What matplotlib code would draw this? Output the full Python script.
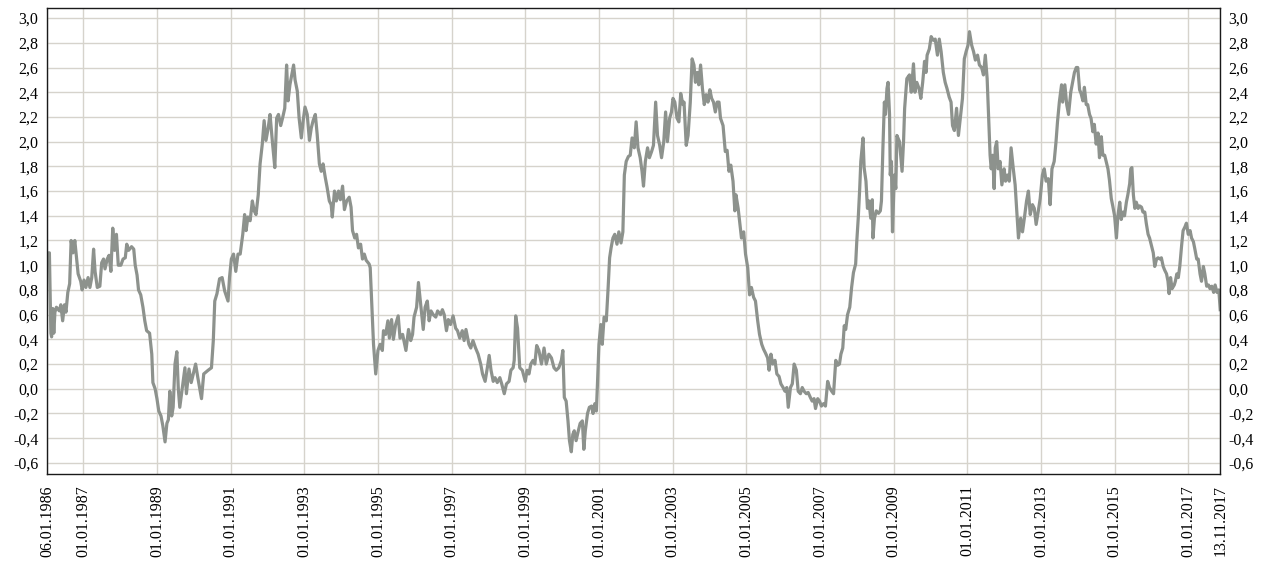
import matplotlib
matplotlib.use("Agg")
import matplotlib.pyplot as plt
import matplotlib.ticker as mticker
import numpy as np
import pandas as pd

# decimal year / value pairs of the weekly series
years = [
    1986.014, 1986.04, 1986.08, 1986.12, 1986.14, 1986.17, 1986.20, 1986.23, 1986.27,
    1986.35, 1986.39, 1986.44, 1986.49, 1986.53, 1986.58, 1986.63, 1986.67, 1986.72,
    1986.77, 1986.82, 1986.86, 1986.93, 1986.97, 1987.02, 1987.07, 1987.13, 1987.18,
    1987.23, 1987.28, 1987.32, 1987.38, 1987.45, 1987.50, 1987.55, 1987.59, 1987.65,
    1987.70, 1987.75, 1987.80, 1987.85, 1987.90, 1987.95, 1988.02, 1988.08, 1988.14,
    1988.18, 1988.23, 1988.31, 1988.37, 1988.41, 1988.46, 1988.50, 1988.56, 1988.62,
    1988.67, 1988.72, 1988.80, 1988.86, 1988.89, 1988.95, 1989.00, 1989.05, 1989.11,
    1989.16, 1989.22, 1989.27, 1989.31, 1989.35, 1989.40, 1989.44, 1989.49, 1989.54,
    1989.58,
    1989.62, 1989.76, 1989.80, 1989.87, 1989.93, 1990.05, 1990.11, 1990.21, 1990.27,
    1990.39, 1990.48, 1990.53, 1990.57, 1990.63, 1990.70, 1990.77, 1990.84, 1990.93,
    1990.97, 1991.02, 1991.08, 1991.14, 1991.20, 1991.26, 1991.33, 1991.38, 1991.42,
    1991.47, 1991.53, 1991.59, 1991.64, 1991.69, 1991.75, 1991.80, 1991.86, 1991.91,
    1991.96, 1992.02, 1992.07, 1992.14, 1992.20, 1992.25, 1992.30, 1992.36, 1992.41,
    1992.47, 1992.52, 1992.56, 1992.61, 1992.66, 1992.71, 1992.75, 1992.81, 1992.86,
    1992.92, 1992.97, 1993.02, 1993.08, 1993.14, 1993.19, 1993.24, 1993.30, 1993.35,
    1993.41, 1993.46, 1993.51, 1993.57, 1993.62, 1993.68, 1993.73, 1993.76, 1993.82,
    1993.87, 1993.93, 1993.98, 1994.04, 1994.09, 1994.15, 1994.22, 1994.27, 1994.31,
    1994.37, 1994.42, 1994.47, 1994.53, 1994.58, 1994.63, 1994.68, 1994.76, 1994.79,
    1994.83, 1994.88, 1994.94,
    1995.00, 1995.06, 1995.12, 1995.15, 1995.21, 1995.27, 1995.31, 1995.37, 1995.42,
    1995.48, 1995.55, 1995.60, 1995.67, 1995.76, 1995.83, 1995.89, 1995.94, 1995.98,
    1996.05, 1996.10, 1996.17, 1996.23, 1996.28, 1996.34, 1996.39, 1996.44, 1996.50,
    1996.57, 1996.62, 1996.70, 1996.75, 1996.80, 1996.86, 1996.91, 1996.97, 1997.04,
    1997.11, 1997.16, 1997.22, 1997.29, 1997.34, 1997.39, 1997.47, 1997.52, 1997.58,
    1997.65, 1997.72, 1997.79, 1997.84, 1997.91, 1997.97, 1998.02, 1998.07, 1998.13,
    1998.18, 1998.24, 1998.31, 1998.36, 1998.43, 1998.49, 1998.56, 1998.61, 1998.67,
    1998.70, 1998.74, 1998.79, 1998.85, 1998.92, 1999.00, 1999.05, 1999.10, 1999.15,
    1999.21, 1999.26, 1999.31,
    1999.37, 1999.44, 1999.51, 1999.57, 1999.64, 1999.71, 1999.78, 1999.84, 1999.91,
    1999.98, 2000.02, 2000.06, 2000.11, 2000.16, 2000.20, 2000.25, 2000.29, 2000.33,
    2000.38, 2000.44, 2000.49, 2000.55, 2000.59, 2000.63, 2000.69, 2000.74, 2000.80,
    2000.84, 2000.89, 2000.93, 2000.96, 2001.00, 2001.05, 2001.09, 2001.14, 2001.20,
    2001.25, 2001.29, 2001.33, 2001.38, 2001.43, 2001.49, 2001.54, 2001.60, 2001.65,
    2001.69, 2001.74, 2001.80, 2001.85, 2001.90, 2001.96, 2002.01, 2002.06, 2002.12,
    2002.17, 2002.21, 2002.26, 2002.32, 2002.37, 2002.43, 2002.48, 2002.54, 2002.59,
    2002.65, 2002.70, 2002.76, 2002.81, 2002.86, 2002.92, 2002.97, 2003.01, 2003.06,
    2003.12, 2003.17, 2003.22, 2003.28, 2003.31, 2003.37, 2003.42, 2003.48, 2003.53,
    2003.58, 2003.62, 2003.67, 2003.71, 2003.76, 2003.81, 2003.86, 2003.91, 2003.96,
    2004.01, 2004.06, 2004.11, 2004.16, 2004.21, 2004.26, 2004.30,
    2004.37, 2004.43, 2004.48, 2004.53, 2004.58, 2004.64, 2004.69, 2004.72, 2004.78,
    2004.83, 2004.87, 2004.93, 2004.98, 2005.04, 2005.09, 2005.14, 2005.20, 2005.25,
    2005.31, 2005.36, 2005.42, 2005.47, 2005.52, 2005.58, 2005.62, 2005.67, 2005.72,
    2005.78, 2005.83, 2005.89, 2005.94, 2006.00, 2006.05, 2006.10, 2006.14, 2006.20,
    2006.25, 2006.30, 2006.36, 2006.41, 2006.47, 2006.52, 2006.57, 2006.63, 2006.68,
    2006.74, 2006.79, 2006.84, 2006.88, 2006.94, 2006.99, 2007.04, 2007.10, 2007.15,
    2007.21, 2007.26, 2007.32, 2007.37, 2007.43, 2007.48, 2007.53, 2007.57, 2007.62,
    2007.66, 2007.70, 2007.75, 2007.81, 2007.86, 2007.91, 2007.97, 2008.00, 2008.04,
    2008.08, 2008.11, 2008.17, 2008.20, 2008.25, 2008.29, 2008.33, 2008.38, 2008.42,
    2008.44, 2008.48, 2008.53, 2008.59, 2008.64, 2008.67, 2008.71, 2008.75, 2008.78,
    2008.82, 2008.85, 2008.89, 2008.91, 2008.94, 2008.97, 2009.02, 2009.06, 2009.09,
    2009.16, 2009.23, 2009.27, 2009.30, 2009.36, 2009.43, 2009.48, 2009.54, 2009.58,
    2009.63, 2009.69, 2009.74, 2009.79, 2009.84, 2009.88, 2009.91, 2009.97, 2010.02,
    2010.08, 2010.13, 2010.19, 2010.24, 2010.29, 2010.35, 2010.40, 2010.45, 2010.51,
    2010.56, 2010.60, 2010.65, 2010.71, 2010.76, 2010.81, 2010.87, 2010.92, 2010.97,
    2011.02, 2011.06, 2011.12, 2011.17, 2011.22, 2011.28, 2011.33, 2011.39, 2011.44,
    2011.49, 2011.54, 2011.58, 2011.62, 2011.65, 2011.69, 2011.73, 2011.76, 2011.80,
    2011.84, 2011.89, 2011.94, 2012.00, 2012.04, 2012.09, 2012.14, 2012.19, 2012.25,
    2012.30, 2012.35, 2012.39, 2012.45, 2012.50, 2012.55, 2012.61, 2012.66, 2012.71,
    2012.77, 2012.82, 2012.87, 2012.93, 2012.98, 2013.04, 2013.09, 2013.14, 2013.20,
    2013.25, 2013.30, 2013.36, 2013.41, 2013.45, 2013.50, 2013.56, 2013.59, 2013.65,
    2013.70, 2013.75, 2013.81, 2013.86, 2013.91, 2013.96, 2014.00,
    2014.05, 2014.09, 2014.14, 2014.18, 2014.23, 2014.27, 2014.32, 2014.36, 2014.41,
    2014.45, 2014.50, 2014.55, 2014.59, 2014.64, 2014.68, 2014.73, 2014.77, 2014.82,
    2014.86, 2014.91, 2014.95, 2015.00, 2015.05, 2015.09, 2015.14, 2015.18, 2015.23,
    2015.27, 2015.32, 2015.36, 2015.41, 2015.44, 2015.47, 2015.51, 2015.55, 2015.59,
    2015.64, 2015.68, 2015.73, 2015.77, 2015.82, 2015.86, 2015.91, 2015.95, 2016.00,
    2016.05, 2016.09, 2016.14, 2016.18, 2016.23, 2016.27, 2016.32, 2016.36, 2016.41,
    2016.45, 2016.48, 2016.52, 2016.56, 2016.62, 2016.65, 2016.69, 2016.73, 2016.77,
    2016.82, 2016.86, 2016.91, 2016.95, 2017.00, 2017.05, 2017.09, 2017.14, 2017.18,
    2017.23, 2017.27, 2017.32, 2017.36, 2017.41, 2017.45, 2017.50, 2017.55, 2017.59,
    2017.64, 2017.69, 2017.73, 2017.78, 2017.83, 2017.868,
]

values = [
    1.10, 1.10, 1.10, 0.45, 0.42, 0.65, 0.45, 0.62, 0.66,
    0.63, 0.68, 0.55, 0.68, 0.62, 0.78, 0.85, 1.20, 1.10,
    1.20, 1.05, 0.93, 0.87, 0.80, 0.88, 0.82, 0.90, 0.82,
    0.90, 1.13, 0.95, 0.82, 0.83, 1.02, 1.05, 0.97, 1.05,
    1.08, 0.95, 1.30, 1.12, 1.25, 1.00, 1.00, 1.05, 1.06,
    1.17, 1.12, 1.15, 1.13, 1.00, 0.92, 0.80, 0.76, 0.66,
    0.55, 0.47, 0.45, 0.28, 0.05, 0.00, -0.08, -0.18, -0.22,
    -0.30, -0.43, -0.28, -0.25, -0.02, -0.22, -0.15, 0.20, 0.30,
    0.00,
    -0.15, 0.17, -0.04, 0.16, 0.05, 0.20, 0.09, -0.08, 0.12,
    0.15, 0.17, 0.39, 0.71, 0.77, 0.89, 0.90, 0.79, 0.71,
    0.90, 1.05, 1.09, 0.95, 1.09, 1.09, 1.25, 1.41, 1.28,
    1.39, 1.36, 1.52, 1.44, 1.41, 1.57, 1.82, 1.98, 2.17,
    2.01, 2.11, 2.22, 1.98, 1.79, 2.19, 2.22, 2.13, 2.19,
    2.27, 2.62, 2.33, 2.46, 2.54, 2.62, 2.50, 2.41, 2.19,
    2.03, 2.17, 2.28, 2.22, 2.01, 2.11, 2.17, 2.22, 2.06,
    1.82, 1.76, 1.82, 1.71, 1.63, 1.52, 1.49, 1.39, 1.60,
    1.52, 1.60, 1.53, 1.64, 1.45, 1.52, 1.55, 1.47, 1.28,
    1.22, 1.25, 1.14, 1.17, 1.05, 1.09, 1.04, 1.01, 0.98,
    0.71, 0.36, 0.12,
    0.31, 0.36, 0.31, 0.47, 0.44, 0.55, 0.41, 0.56, 0.40,
    0.52, 0.59, 0.41, 0.44, 0.31, 0.48, 0.39, 0.44, 0.58,
    0.66, 0.86, 0.66, 0.48, 0.66, 0.71, 0.55, 0.63, 0.60,
    0.58, 0.63, 0.60, 0.64, 0.60, 0.47, 0.56, 0.52, 0.59,
    0.49, 0.47, 0.41, 0.47, 0.39, 0.48, 0.36, 0.33, 0.39,
    0.33, 0.28, 0.20, 0.12, 0.06, 0.17, 0.27, 0.15, 0.06,
    0.09, 0.05, 0.09, 0.04, -0.04, 0.04, 0.06, 0.15, 0.17,
    0.23, 0.59, 0.49, 0.17, 0.15, 0.06, 0.15, 0.12, 0.20,
    0.23, 0.20, 0.35,
    0.31, 0.20, 0.33, 0.20, 0.28, 0.25, 0.17, 0.15, 0.17,
    0.23, 0.31, -0.07, -0.10, -0.26, -0.42, -0.51, -0.37, -0.34,
    -0.42, -0.34, -0.28, -0.26, -0.49, -0.34, -0.20, -0.15, -0.14,
    -0.20, -0.12, -0.18, 0.04, 0.36, 0.52, 0.36, 0.58, 0.55,
    0.82, 1.06, 1.14, 1.22, 1.25, 1.17, 1.27, 1.18, 1.27,
    1.73, 1.84, 1.88, 1.89, 2.03, 1.95, 2.16, 1.95, 1.87,
    1.76, 1.64, 1.84, 1.95, 1.87, 1.92, 1.97, 2.32, 2.05,
    1.97, 1.87, 2.00, 2.24, 2.00, 2.19, 2.24, 2.35, 2.32,
    2.19, 2.16, 2.39, 2.30, 2.32, 1.97, 2.05, 2.32, 2.67,
    2.62, 2.48, 2.56, 2.46, 2.62, 2.43, 2.30, 2.38, 2.32,
    2.42, 2.35, 2.32, 2.24, 2.32, 2.32, 2.19,
    2.13, 1.92, 1.93, 1.76, 1.81, 1.68, 1.44, 1.57, 1.46,
    1.33, 1.22, 1.27, 1.09, 0.98, 0.76, 0.82, 0.74, 0.71,
    0.55, 0.44, 0.36, 0.32, 0.29, 0.25, 0.15, 0.28, 0.20,
    0.23, 0.12, 0.10, 0.04, 0.01, -0.02, 0.01, -0.15, 0.01,
    0.04, 0.20, 0.15, -0.02, -0.04, 0.01, -0.02, -0.04, -0.03,
    -0.07, -0.10, -0.08, -0.16, -0.08, -0.10, -0.14, -0.12, -0.14,
    0.06, 0.01, -0.02, -0.04, 0.23, 0.19, 0.20, 0.28, 0.33,
    0.51, 0.48, 0.60, 0.66, 0.82, 0.94, 1.01, 1.19, 1.38,
    1.62, 1.84, 2.03, 1.79, 1.68, 1.46, 1.52, 1.38, 1.53,
    1.22, 1.38, 1.44, 1.42, 1.44, 1.52, 1.95, 2.32, 2.22,
    2.43, 2.48, 2.22, 1.73, 1.84, 1.27, 1.73, 1.62, 2.05,
    2.00, 1.76, 2.00, 2.27, 2.51, 2.54, 2.40, 2.63, 2.40,
    2.48, 2.43, 2.35, 2.48, 2.65, 2.56, 2.70, 2.75, 2.85,
    2.82, 2.83, 2.70, 2.83, 2.73, 2.56, 2.48, 2.43, 2.36,
    2.32, 2.13, 2.09, 2.27, 2.05, 2.19, 2.35, 2.67, 2.73,
    2.78, 2.89, 2.78, 2.73, 2.66, 2.70, 2.62, 2.60, 2.54,
    2.70, 2.51, 2.19, 1.89, 1.78, 1.89, 1.62, 1.95, 2.00,
    1.78, 1.84, 1.65, 1.78, 1.68, 1.73, 1.68, 1.95, 1.78,
    1.65, 1.41, 1.22, 1.38, 1.27, 1.38, 1.52, 1.60, 1.41,
    1.49, 1.46, 1.33, 1.44, 1.54, 1.73, 1.78, 1.68, 1.70,
    1.49, 1.78, 1.84, 2.00, 2.16, 2.32, 2.46, 2.32, 2.46,
    2.30, 2.22, 2.40, 2.48, 2.56, 2.60, 2.60,
    2.42, 2.39, 2.33, 2.44, 2.30, 2.30, 2.22, 2.19, 2.08,
    2.14, 1.98, 2.07, 1.87, 2.04, 1.89, 1.89, 1.84, 1.78,
    1.69, 1.54, 1.48, 1.40, 1.22, 1.40, 1.51, 1.37, 1.43,
    1.40, 1.51, 1.57, 1.66, 1.78, 1.79, 1.57, 1.46, 1.51,
    1.46, 1.48, 1.47, 1.43, 1.43, 1.34, 1.25, 1.22, 1.16,
    1.10, 0.99, 1.05, 1.06, 1.05, 1.06, 0.99, 0.96, 0.93,
    0.87, 0.77, 0.90, 0.81, 0.84, 0.87, 0.93, 0.90, 0.99,
    1.16, 1.28, 1.31, 1.34, 1.25, 1.28, 1.22, 1.19, 1.13,
    1.05, 1.05, 0.93, 0.87, 0.99, 0.93, 0.83, 0.84, 0.81,
    0.83, 0.78, 0.84, 0.78, 0.80, 0.64,
]

first_day = pd.Timestamp("1986-01-06")
last_day = pd.Timestamp("2017-11-13")
grid_years = list(range(1987, 2018, 2))
y_ticks = np.round(np.arange(-0.6, 3.01, 0.2), 1)

dates = pd.Timestamp("1986-01-01") + pd.to_timedelta(
    (np.array(years) - 1986.0) * 365.25, unit="D"
)

plt.rcParams["font.family"] = ["Liberation Serif", "DejaVu Serif"]

fig = plt.figure(figsize=(12.69, 5.65), dpi=100)
ax = fig.add_axes([0.037, 0.161, 0.9245, 0.8245])

ax.plot(dates, values, color="#8D928D", linewidth=2.3, solid_joinstyle="round")

ax.set_xlim(first_day, last_day)
ax.set_ylim(-0.69, 3.08)

x_ticks = [first_day] + [pd.Timestamp(f"{y}-01-01") for y in grid_years] + [last_day]
ax.set_xticks(x_ticks)
ax.set_xticklabels([d.strftime("%d.%m.%Y") for d in x_ticks], rotation=90,
                   fontsize=11.5)
ax.set_yticks(y_ticks)
ax.yaxis.set_major_formatter(
    mticker.FuncFormatter(lambda v, _: f"{v:.1f}".replace(".", ","))
)

ax.grid(True, color="#D6D3CC", linewidth=1.0)
ax.set_axisbelow(True)
ax.tick_params(axis="both", length=0, labelsize=11.5)
ax.tick_params(axis="y", labelleft=True, labelright=True, pad=6)
ax.tick_params(axis="x", pad=8)
for spine in ax.spines.values():
    spine.set_color("#1a1a1a")
    spine.set_linewidth(1.0)

fig.savefig("out.png", dpi=100)
plt.close(fig)
